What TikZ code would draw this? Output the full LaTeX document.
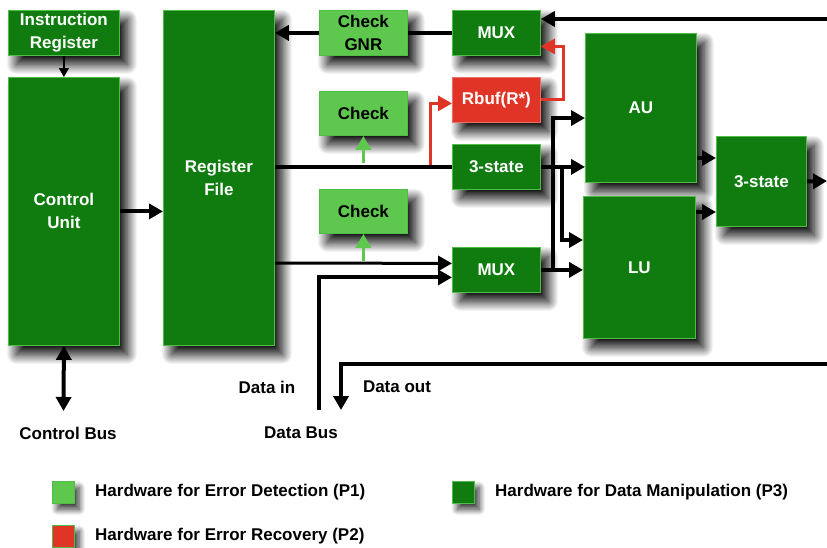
\documentclass[tikz,border=0pt]{standalone}
\usepackage{fontspec}
\setmainfont{Liberation Sans}
\usetikzlibrary{arrows.meta,shadows.blur}
\definecolor{dg}{RGB}{16,124,16}
\definecolor{lg}{RGB}{94,200,78}
\definecolor{rd}{RGB}{224,52,38}
\definecolor{bd}{RGB}{80,190,70}
\tikzset{
  x=1pt,y=-1pt,
  shad/.style={blur shadow={shadow xshift=8pt,shadow yshift=-9pt,shadow blur radius=10pt,shadow blur steps=30,shadow opacity=100}},
  box/.style={shad,draw=bd,line width=0.8pt,inner sep=0pt,anchor=north west,align=center,
     font=\bfseries\fontsize{17}{23}\selectfont},
  dbox/.style={box,fill=dg,text=white},
  lbox/.style={box,fill=lg,text=black},
  rbox/.style={box,fill=rd,draw=rd!70!white,text=white},
  tip/.style={-{Triangle[length=14pt,width=15pt]}},
  wire/.style={line width=4pt},
  arr/.style={wire,tip},
  twoarr/.style={wire,{Triangle[length=14pt,width=15pt]}-{Triangle[length=14pt,width=15pt]}},
  thinarr/.style={line width=1.2pt,-{Triangle[length=9pt,width=10pt]}},
  garr/.style={line width=3.5pt,draw=lg,tip},
  rarr/.style={line width=3pt,draw=rd,tip},
  lbl/.style={font=\bfseries\fontsize{17}{20}\selectfont,inner sep=0pt},
  leg/.style={blur shadow={shadow xshift=5pt,shadow yshift=-6pt,shadow blur radius=6pt,shadow blur steps=20,shadow opacity=80},
     fill=#1,draw=bd,line width=0.6pt,minimum size=22pt,inner sep=0pt,anchor=north west}
}
\begin{document}
\begin{tikzpicture}
\useasboundingbox (0,0) rectangle (827,547);
% boxes
\node[dbox,minimum width=111pt,minimum height=45pt] (ir) at (8,10) {Instruction\\Register};
\node[dbox,minimum width=111pt,minimum height=268pt] (cu) at (8,77) {Control\\Unit};
\node[dbox,minimum width=111pt,minimum height=335pt] (rf) at (163,10) {Register\\File};
\node[lbox,minimum width=88pt,minimum height=45pt] (gnr) at (319,10) {Check\\GNR};
\node[lbox,minimum width=88pt,minimum height=44pt] (chk1) at (319,91) {Check};
\node[lbox,minimum width=88pt,minimum height=44pt] (chk2) at (319,189) {Check};
\node[dbox,minimum width=88pt,minimum height=45pt] (mux1) at (452,10) {MUX};
\node[rbox,minimum width=88pt,minimum height=45pt] (rbuf) at (452,77) {Rbuf(R*)};
\node[dbox,minimum width=88pt,minimum height=45pt] (ts1) at (452,144) {3-state};
\node[dbox,minimum width=88pt,minimum height=45pt] (mux2) at (452,247) {MUX};
\node[dbox,minimum width=111pt,minimum height=149pt] (au) at (585,33) {AU};
\node[dbox,minimum width=112pt,minimum height=142pt] (lu) at (583,196) {LU};
\node[dbox,minimum width=90pt,minimum height=90pt] (ts2) at (716,136) {3-state};
% free ends
\coordinate (topin) at (827,19);
\coordinate (outr) at (827,181);
\coordinate (dout) at (827,364);
\coordinate (doutend) at (341,410);
\coordinate (din) at (319,410);
\coordinate (cbus) at (63.5,411);
% connectors
\draw[thinarr] (ir.south) -- (cu.north);
\draw[arr] (cu.east) -- (rf.west |- cu.east);
\draw[twoarr] (cu.south) -- (cbus);
\draw[arr] (gnr.west) -- (rf.east |- gnr.west);
\draw[wire] (mux1.west) -- (gnr.east);
\draw[arr] (topin) -- (mux1.east |- topin);
\draw[wire] (rf.east |- ts1.west) -- (ts1.west);
\draw[garr] (chk1.south |- 0,163) -- (chk1.south);
\draw[rarr] (430,164.5) |- ([yshift=-3.5pt]rbuf.west);
\draw[rarr] (rbuf.east) -- ++(23,0) |- ([yshift=-13.5pt]mux1.east);
\draw[line width=3pt,tip] (rf.east |- 0,263) -- ([yshift=6.5pt]mux2.west);
\draw[garr] (chk2.south |- 0,261) -- (chk2.south);
\draw[arr] (din) |- ([yshift=-7.5pt]mux2.west);
\draw[arr] (ts1.east) -- (au.west |- ts1.east);
\draw[arr] (mux2.east) -- (lu.west |- mux2.east);
\draw[arr] (553,269.5) |- (au.west |- 0,118);
\draw[arr] (562,166.5) |- (lu.west |- 0,240);
\draw[arr] (au.east |- 0,158) -- (ts2.west |- 0,158);
\draw[arr] (lu.east |- 0,212) -- (ts2.west |- 0,212);
\draw[arr] (ts2.east) -- (outr);
\draw[arr] (dout) -| (doutend);
% labels
\node[lbl] (ldin) at (267,387) {Data in};
\node[lbl] (ldout) at (397,387) {Data out};
\node[lbl] (lcb) at (68,433) {Control Bus};
\node[lbl] (ldb) at (301,433) {Data Bus};
% legend
\node[leg=lg] (k1) at (52,481) {};
\node[lbl,anchor=west] (t1) at (95,492) {Hardware for Error Detection (P1)};
\node[leg=rd] (k2) at (52,525) {};
\node[lbl,anchor=west] (t2) at (95,536) {Hardware for Error Recovery (P2)};
\node[leg=dg] (k3) at (452,481) {};
\node[lbl,anchor=west] (t3) at (495,492) {Hardware for Data Manipulation (P3)};
\end{tikzpicture}
\end{document}
